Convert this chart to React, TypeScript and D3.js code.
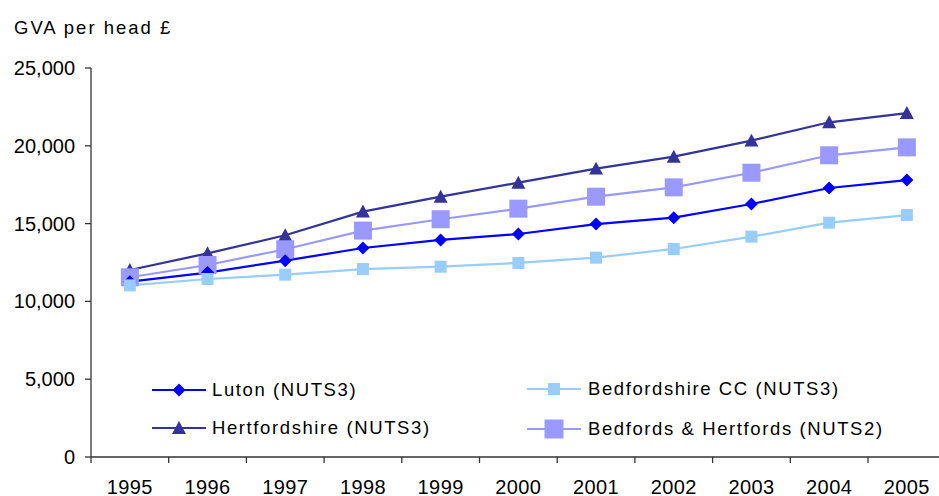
import React from "react";
import * as d3 from "d3";

const years = ["1995","1996","1997","1998","1999","2000","2001","2002","2003","2004","2005"];
const luton = [11270, 11850, 12620, 13430, 13950, 14330, 14970, 15380, 16260, 17290, 17800];
const bedfordshireCC = [11030, 11440, 11720, 12080, 12230, 12470, 12810, 13370, 14160, 15060, 15550];
const hertfordshire = [12020, 13090, 14250, 15770, 16730, 17630, 18530, 19300, 20330, 21510, 22100];
const bedsHerts = [11550, 12340, 13350, 14550, 15280, 15960, 16730, 17330, 18270, 19390, 19900];
const yTicks = [0, 5000, 10000, 15000, 20000, 25000];

const W = 939, H = 496;
const FONT = "'Liberation Sans', Arial, sans-serif";

type Series = { name: string; values: number[]; color: string; marker: string; size: number };
const series: Series[] = [
  { name: "Hertfordshire (NUTS3)", values: hertfordshire, color: "#333399", marker: "triangle", size: 14 },
  { name: "Bedfords & Hertfords (NUTS2)", values: bedsHerts, color: "#9999FF", marker: "bigsquare", size: 18 },
  { name: "Luton (NUTS3)", values: luton, color: "#0000FF", marker: "diamond", size: 13 },
  { name: "Bedfordshire CC (NUTS3)", values: bedfordshireCC, color: "#99CCFF", marker: "square", size: 12 },
];

function Marker({ type, x, y, size, color }: { type: string; x: number; y: number; size: number; color: string }) {
  const h = size / 2;
  if (type === "diamond") {
    return <path d={`M${x},${y - h}L${x + h},${y}L${x},${y + h}L${x - h},${y}Z`} fill={color} />;
  }
  if (type === "triangle") {
    return <path d={`M${x},${y - h}L${x + h},${y + h * 0.85}L${x - h},${y + h * 0.85}Z`} fill={color} />;
  }
  return <rect x={x - h} y={y - h} width={size} height={size} fill={color} />;
}

export default function App() {
  const x = d3.scaleBand<string>().domain(years).range([91, 91 + 11 * 77.7]);
  const y = d3.scaleLinear().domain([0, 25000]).range([457, 68]);
  const cx = (yr: string) => (x(yr) as number) + x.bandwidth() / 2;
  const line = d3.line<number>().x((_, i) => cx(years[i])).y((v) => y(v));

  const legend = [
    { s: series[2], lx: 152, tx: 212, ly: 390 },
    { s: series[3], lx: 527, tx: 588, ly: 389 },
    { s: series[0], lx: 152, tx: 212, ly: 428 },
    { s: series[1], lx: 527, tx: 588, ly: 429 },
  ];

  return (
    <svg width={W} height={H} style={{ position: "absolute", left: 0, top: 0, background: "#fff" }} fontFamily={FONT}>
      <text x={14} y={34} fontSize={18.5} fill="#000" letterSpacing={2}>GVA per head £</text>
      {/* y axis */}
      <line x1={91} y1={68} x2={91} y2={457} stroke="#333" strokeWidth={1.3} />
      {yTicks.map((t) => (
        <g key={t}>
          <line x1={85} x2={91} y1={y(t)} y2={y(t)} stroke="#333" strokeWidth={1.3} />
          <text x={75} y={y(t)} dy="0.35em" textAnchor="end" fontSize={20} fill="#000">
            {d3.format(",")(t)}
          </text>
        </g>
      ))}
      {/* x axis */}
      <line x1={91} y1={457} x2={W} y2={457} stroke="#333" strokeWidth={1.3} />
      {years.map((yr) => (
        <line key={"t" + yr} x1={x(yr)} x2={x(yr)} y1={457} y2={463} stroke="#333" strokeWidth={1.3} />
      ))}
      {years.map((yr) => (
        <text key={"l" + yr} x={cx(yr)} y={494} textAnchor="middle" fontSize={20} letterSpacing={0.4} fill="#000">{yr}</text>
      ))}
      {/* lines */}
      {series.map((s) => (
        <path key={s.name} d={line(s.values) || ""} fill="none" stroke={s.color} strokeWidth={2.2} />
      ))}
      {series.map((s) => (
        <g key={"m" + s.name}>
          {s.values.map((v, i) => (
            <Marker key={i} type={s.marker} x={cx(years[i])} y={y(v)} size={s.size} color={s.color} />
          ))}
        </g>
      ))}
      {/* legend */}
      {legend.map(({ s, lx, tx, ly }) => (
        <g key={"lg" + s.name}>
          <line x1={lx} x2={lx + 54} y1={ly} y2={ly} stroke={s.color} strokeWidth={2.2} />
          <Marker type={s.marker} x={lx + 27} y={ly} size={s.marker === "bigsquare" ? 19 : s.size} color={s.color} />
          <text x={tx} y={ly} dy="0.35em" fontSize={18.5} fill="#000" letterSpacing={1.6}>{s.name}</text>
        </g>
      ))}
    </svg>
  );
}
